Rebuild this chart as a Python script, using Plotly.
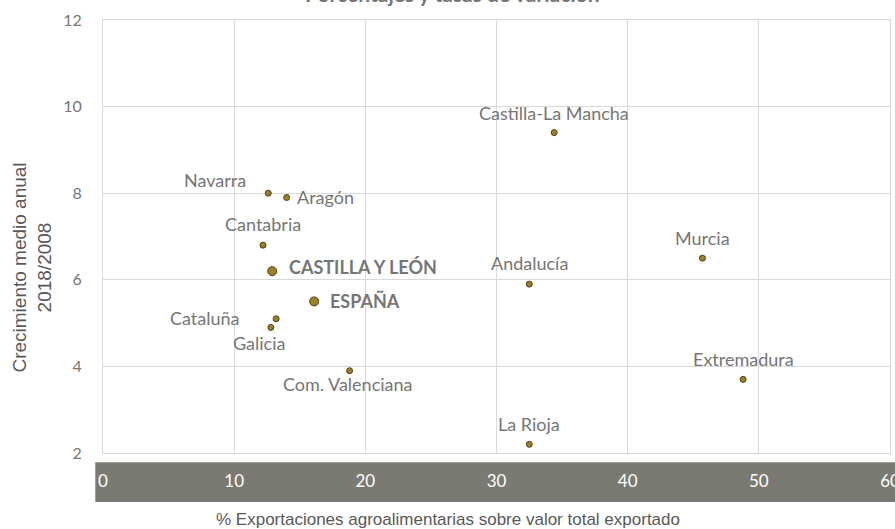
import plotly.graph_objects as go

# Regional data: share of agri-food exports (% of total exports) vs. average annual growth 2018/2008
regions = ["Castilla-La Mancha", "Navarra", "Aragón", "Cantabria", "Cataluña", "Galicia",
           "Com. Valenciana", "Andalucía", "Murcia", "Extremadura", "La Rioja"]
share_exports = [34.4, 12.6, 14.0, 12.2, 13.2, 12.8, 18.8, 32.5, 45.7, 48.8, 32.5]
annual_growth = [9.4, 8.0, 7.9, 6.8, 5.1, 4.9, 3.9, 5.9, 6.5, 3.7, 2.2]

# Highlighted series
key_names = ["CASTILLA Y LEÓN", "ESPAÑA"]
key_share = [12.9, 16.1]
key_growth = [6.2, 5.5]

x_ticks = [0, 10, 20, 30, 40, 50, 60]
y_ticks = [2, 4, 6, 8, 10, 12]

# label placement: (xshift px, yshift px, xanchor)
label_offsets = {
    "Castilla-La Mancha": (0, 20, "center"),
    "Navarra": (-53, 13, "center"),
    "Aragón": (8, 1, "left"),
    "Cantabria": (0, 21, "center"),
    "Cataluña": (-34, 1, "right"),
    "Galicia": (-12, -16, "center"),
    "Com. Valenciana": (-2, -13, "center"),
    "Andalucía": (0, 21, "center"),
    "Murcia": (0, 20, "center"),
    "Extremadura": (0, 20, "center"),
    "La Rioja": (0, 20, "center"),
    "CASTILLA Y LEÓN": (15, 4, "left"),
    "ESPAÑA": (14, 0, "left"),
}

LABEL_FONT = "Lato, 'Open Sans', sans-serif"
GRAY = "#767676"
DOT = "#9C8029"
DOT_EDGE = "#4F4012"

fig = go.Figure()
fig.add_trace(go.Scatter(
    x=share_exports, y=annual_growth, mode="markers", text=regions,
    marker=dict(size=6, color=DOT, line=dict(color=DOT_EDGE, width=1)),
    hoverinfo="text+x+y", showlegend=False,
))
fig.add_trace(go.Scatter(
    x=key_share, y=key_growth, mode="markers", text=key_names,
    marker=dict(size=9, color=DOT, line=dict(color=DOT_EDGE, width=1)),
    hoverinfo="text+x+y", showlegend=False,
))

annotations = []
for name, xv, yv in zip(regions + key_names, share_exports + key_share, annual_growth + key_growth):
    dx, dy, anchor = label_offsets[name]
    bold = name in key_names
    annotations.append(dict(
        x=xv, y=yv, xref="x", yref="y", showarrow=False,
        text=f"<b>{name}</b>" if bold else name,
        xanchor=anchor, yanchor="middle", xshift=dx, yshift=dy,
        font=dict(family=LABEL_FONT, size=18, color=GRAY),
    ))

# chart title (runs off the top edge)
annotations.append(dict(
    x=0.4437, y=1.027, xref="paper", yref="paper", showarrow=False,
    xanchor="center", yanchor="bottom",
    text="<b>Porcentajes y tasas de variación</b>",
    font=dict(family=LABEL_FONT, size=21, color=GRAY),
))
# axis titles
annotations.append(dict(
    x=0.4386, y=-0.153, xref="paper", yref="paper", showarrow=False,
    xanchor="center", yanchor="middle",
    text="% Exportaciones agroalimentarias sobre valor total exportado",
    font=dict(family="'Liberation Sans', Arial, sans-serif", size=17, color="#595959"),
))
annotations.append(dict(
    x=-0.0898, y=0.429, xref="paper", yref="paper", showarrow=False,
    xanchor="center", yanchor="middle", textangle=-90,
    text="Crecimiento medio anual<br>2018/2008",
    font=dict(family="'Liberation Sans', Arial, sans-serif", size=19, color="#595959"),
))

# dark band behind the x tick labels
fig.add_shape(type="rect", xref="paper", yref="paper",
              x0=-0.0098, x1=1.01, y0=-0.1132, y1=-0.0215,
              fillcolor="#7A7A72", line_width=0, layer="below")

fig.update_layout(
    width=895, height=529,
    margin=dict(l=103, r=5, t=20, b=76),
    paper_bgcolor="white", plot_bgcolor="white",
    annotations=annotations,
    xaxis=dict(
        range=[0, 60], tickvals=x_ticks, ticktext=[str(v) for v in x_ticks],
        showgrid=True, gridcolor="#D9D9D9", gridwidth=1,
        showline=True, linecolor="#D9D9D9", mirror=True, zeroline=False,
        ticks="", ticklabelstandoff=13, ticklabeloverflow="allow", automargin=False,
        tickfont=dict(family=LABEL_FONT, size=17, color="white"),
    ),
    yaxis=dict(
        range=[2, 12], tickvals=y_ticks, ticktext=[str(v) for v in y_ticks],
        showgrid=True, gridcolor="#D9D9D9", gridwidth=1,
        showline=True, linecolor="#D9D9D9", mirror=True, zeroline=False,
        ticks="", ticklabelstandoff=17, automargin=False,
        tickfont=dict(family=LABEL_FONT, size=16, color=GRAY),
    ),
)

fig.write_html("out.html")
